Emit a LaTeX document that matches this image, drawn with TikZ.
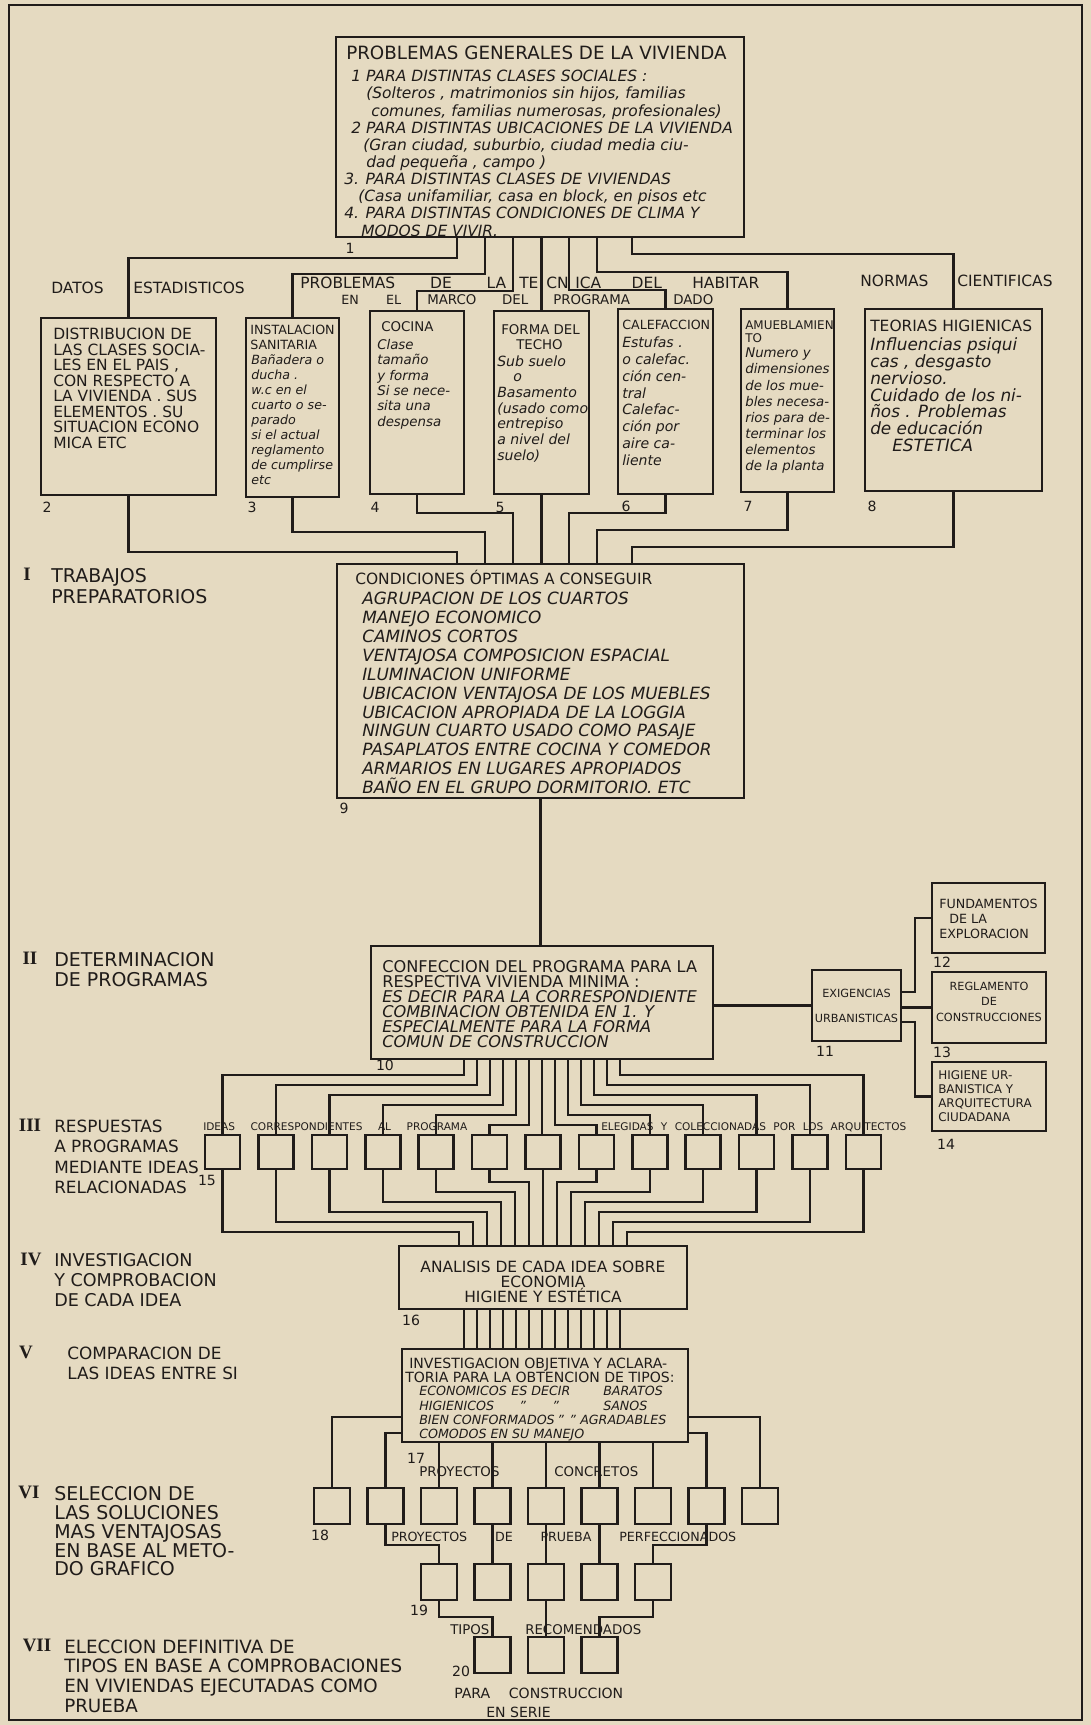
\documentclass[tikz,border=0pt]{standalone}
\usepackage{fontspec}
\setmainfont{DejaVu Sans}
\newfontfamily\romnum{Liberation Serif}
\usetikzlibrary{fit}
\definecolor{paper}{RGB}{229,218,193}
\definecolor{ink}{RGB}{32,28,26}
\newlength\px
\setlength\px{0.025cm}
\newcommand\fs[2]{\fontsize{#1}{#2}\selectfont}
\newcommand\spread[2]{\makebox[#1\px][s]{#2}}

\begin{document}
\begin{tikzpicture}[x=0.025cm, y=-0.025cm, line width=1.8pt, color=ink,
    every node/.style={inner sep=0pt},
    box/.style={draw, fit={#1}},
    sq/.style={draw, minimum width=0.9cm, minimum height=0.9cm},
    idea/.style={draw, minimum width=0.875cm, minimum height=0.85cm},
    num/.style={font=\fs{10}{12}},
    hd/.style={anchor=west, font=\fs{11}{12}},
    blk/.style={anchor=north west, align=left},
    sidetxt/.style={anchor=north west, align=left, font=\fs{13}{14.2}},
    romn/.style={font=\romnum\bfseries\fs{13.5}{14}}]
\useasboundingbox (0,0) rectangle (1091,1725);

% 1. fondo y marco
\fill[paper] (0,0) rectangle (1091,1725);
\draw (9,5) rectangle (1082,1720);

% 2. problemas generales
\node[box={(336,37) (744,237)}] (b1) {};
\node[hd, font=\fs{13}{14}] (t1) at (345,53) {PROBLEMAS GENERALES DE LA VIVIENDA};
\node[blk, font=\itshape\fs{11}{12.2}] (t1b) at (343,69) {\hspace*{7\px}1 PARA DISTINTAS CLASES SOCIALES :\\
  \hspace*{22\px}(Solteros , matrimonios sin hijos, familias\\
  \hspace*{27\px}comunes, familias numerosas, profesionales)\\
  \hspace*{7\px}2 PARA DISTINTAS UBICACIONES DE LA VIVIENDA\\
  \hspace*{19\px}(Gran ciudad, suburbio, ciudad media ciu-\\
  \hspace*{22\px}dad pequeña , campo )\\
  3. PARA DISTINTAS CLASES DE VIVIENDAS\\
  \hspace*{14\px}(Casa unifamiliar, casa en block, en pisos etc\\
  4. PARA DISTINTAS CONDICIONES DE CLIMA Y\\
  \hspace*{17\px}MODOS DE VIVIR.};
\node[num] (n1) at (350,248) {1};

% 3. cabeceras de la fila de trabajos
\node[hd] (hd1) at (50,288) {DATOS};
\node[hd] (hd2) at (132,288) {ESTADISTICOS};
\node[hd] (hp1) at (299,283) {\spread{206}{PROBLEMAS DE LA}};
\node[hd] (hp2) at (518,283) {TE};
\node[hd] (hp3) at (545,283) {CN};
\node[hd] (hp4) at (574,283) {\spread{184}{ICA DEL HABITAR}};
\node[hd, font=\fs{9}{11}] (hm1) at (340,300) {\spread{60}{EN EL}};
\node[hd, font=\fs{9.5}{11}] (hm2) at (426,300) {\spread{101}{MARCO DEL}};
\node[hd, font=\fs{9.5}{11}] (hm3) at (552,300) {PROGRAMA};
\node[hd, font=\fs{9.5}{11}] (hm4) at (672,300) {DADO};
\node[hd] (hn1) at (859,281) {NORMAS};
\node[hd] (hn2) at (956,281) {CIENTIFICAS};

% 4. cajas 2 a 8
\node[box={(41,318) (216,495)}] (b2) {};
\node[blk, font=\fs{11}{11}] (t2) at (52,327) {DISTRIBUCION DE\\LAS CLASES SOCIA-\\LES EN EL PAIS ,\\CON RESPECTO A\\LA VIVIENDA . SUS\\ELEMENTOS . SU\\SITUACION ECONO\\MICA ETC};

\node[box={(246,318) (339,497)}] (b3) {};
\node[blk, font=\fs{9}{10.7}] (h3) at (249,323.5) {INSTALACION\\SANITARIA};
\node[blk, font=\itshape\fs{9}{10.7}] (t3) at (250,353) {Bañadera o\\ducha .\\w.c en el\\cuarto o se-\\parado\\si el actual\\reglamento\\de cumplirse\\etc};

\node[box={(370,311) (464,494)}] (b4) {};
\node[hd, font=\fs{9.5}{11}] (h4) at (380,327) {COCINA};
\node[blk, font=\itshape\fs{9.5}{11}] (t4) at (376,337.7) {Clase\\tamaño\\y forma\\Si se nece-\\sita una\\despensa};

\node[box={(494,311) (589,494)}] (b5) {};
\node[blk, font=\fs{9.5}{11}] (h5) at (500,323) {FORMA DEL\\\hspace*{15\px}TECHO};
\node[blk, font=\itshape\fs{10}{11.1}] (t5) at (496,354.4) {Sub suelo\\\hspace*{16\px}o\\Basamento\\(usado como\\entrepiso\\a nivel del\\suelo)};

\node[box={(618,309) (713,494)}] (b6) {};
\node[hd, font=\fs{9}{11}] (h6) at (621,325) {CALEFACCION};
\node[blk, font=\itshape\fs{10}{11.9}] (t6) at (621,336) {Estufas .\\o calefac.\\ción cen-\\tral\\Calefac-\\ción por\\aire ca-\\liente};

\node[box={(741,309) (834,492)}] (b7) {};
\node[blk, font=\fs{8.5}{9}] (h7) at (744,319.6) {AMUEBLAMIEN\\TO};
\node[blk, font=\itshape\fs{9.5}{11.5}] (t7) at (744,346.7) {Numero y\\dimensiones\\de los mue-\\bles necesa-\\rios para de-\\terminar los\\elementos\\de la planta};

\node[box={(865,309) (1042,491)}] (b8) {};
\node[hd, font=\fs{11}{12}] (h8) at (869,326) {TEORIAS HIGIENICAS};
\node[blk, font=\itshape\fs{12}{12}] (t8) at (869,336.3) {Influencias psiqui\\cas , desgasto\\nervioso.\\Cuidado de los ni-\\ños . Problemas\\de educación\\\hspace*{22\px}ESTETICA};

\node[num] (n2) at (47,507) {2};
\node[num] (n3) at (252,507) {3};
\node[num] (n4) at (375,507) {4};
\node[num] (n5) at (500,507) {5};
\node[num] (n6) at (626,506) {6};
\node[num] (n7) at (748,506) {7};
\node[num] (n8) at (872,506) {8};

\foreach \xx/\yy/\nn in {457/258/2, 485/274/3, 513/291/4, 569/290/6, 597/272/7, 632/254/8}
  \draw (b1.south -| \xx,0) -- (\xx,\yy) -| (b\nn.north);
\draw (b1.south -| b5.north) -- (b5.north);

% 5. condiciones optimas
\node[box={(337,564) (744,798)}] (b9) {};
\node[hd, font=\fs{11}{12}] (t9) at (354,577.5) {CONDICIONES ÓPTIMAS A CONSEGUIR};
\node[blk, font=\itshape\fs{12}{13.5}] (t9b) at (361,590.3) {AGRUPACION DE LOS CUARTOS\\MANEJO ECONOMICO\\CAMINOS CORTOS\\VENTAJOSA COMPOSICION ESPACIAL\\ILUMINACION UNIFORME\\UBICACION VENTAJOSA DE LOS MUEBLES\\UBICACION APROPIADA DE LA LOGGIA\\NINGUN CUARTO USADO COMO PASAJE\\PASAPLATOS ENTRE COCINA Y COMEDOR\\ARMARIOS EN LUGARES APROPIADOS\\BAÑO EN EL GRUPO DORMITORIO. ETC};
\node[num] (n9) at (344,808) {9};

\foreach \nn/\yy/\xx in {2/552/457, 3/532/485, 4/513/513, 6/513/569, 7/530/597, 8/547/632}
  \draw (b\nn.south) |- (\xx,\yy) -- (b9.north -| \xx,0);
\draw (b5.south) -- (b9.north -| b5.south);

% 6. programa y exigencias urbanisticas
\node[box={(371,946) (713,1059)}] (b10) {};
\node[blk, font=\fs{11.5}{10.7}] (t10) at (381,959) {CONFECCION DEL PROGRAMA PARA LA\\RESPECTIVA VIVIENDA MINIMA :};
\node[blk, font=\itshape\fs{11.5}{10.7}] (t10b) at (381,989) {ES DECIR PARA LA CORRESPONDIENTE\\COMBINACION OBTENIDA EN 1. Y\\ESPECIALMENTE PARA LA FORMA\\COMUN DE CONSTRUCCION};
\node[num] (n10) at (385,1065) {10};
\draw (b9.south) -- (b10.north -| b9.south);

\node[box={(812,970) (901,1041)}] (b11) {};
\node[align=center, font=\fs{8}{17.8}] (t11) at (b11) {EXIGENCIAS\\URBANISTICAS};
\node[num] (n11) at (825,1051) {11};
\node[box={(932,883) (1045,953)}] (b12) {};
\node[blk, font=\fs{9}{10.7}] (t12) at (938,898) {FUNDAMENTOS\\\hspace*{10\px}DE LA\\EXPLORACION};
\node[num] (n12) at (942,962) {12};
\node[box={(932,972) (1046,1043)}] (b13) {};
\node[align=center, font=\fs{8}{10.7}, yshift=4pt] (t13) at (b13) {REGLAMENTO\\DE\\CONSTRUCCIONES};
\node[num] (n13) at (942,1052) {13};
\node[box={(932,1062) (1046,1131)}] (b14) {};
\node[blk, font=\fs{8.5}{10}] (t14) at (937,1069) {HIGIENE UR-\\BANISTICA Y\\ARQUITECTURA\\CIUDADANA};
\node[num] (n14) at (946,1144) {14};

\draw (b10.east |- b11.west) -- (b11.west);
\draw (b11.east |- 0,992) -- (915,992) |- (b12.west);
\draw (b11.east |- b13.west) -- (b13.west);
\draw (b11.east |- 0,1022) -- (915,1022) |- (b14.west);

% 7. ideas relacionadas
\node[hd, font=\fs{7.5}{9}] (hi1) at (202,1127) {\spread{264}{IDEAS CORRESPONDIENTES AL PROGRAMA}};
\node[hd, font=\fs{7.5}{9}] (hi2) at (600,1127) {\spread{305}{ELEGIDAS Y COLECCIONADAS POR LOS ARQUITECTOS}};
\foreach \kk in {0,...,12}
  \node[idea] (r\kk) at ({543+(\kk-6)*53.4},1152) {};
\node[num] (n15) at (207,1180) {15};

\foreach \kk in {0,...,12} {
  \pgfmathsetmacro\dd{abs(\kk-6)}
  \pgfmathsetmacro\xs{542+(\kk-6)*13}
  \pgfmathsetmacro\yh{1135-10*\dd}
  \draw (b10.south -| \xs,0) -- (\xs,\yh) -| (r\kk.north);
}

% 8. analisis de cada idea
\node[box={(399,1246) (687,1309)}] (b16) {};
\node[align=center, font=\fs{11}{10.7}, yshift=-3.2pt] (t16) at (b16) {ANALISIS DE CADA IDEA SOBRE\\ECONOMIA\\HIGIENE Y ESTÉTICA};
\node[num] (n16) at (411,1320) {16};

\foreach \kk in {0,...,12} {
  \pgfmathsetmacro\dd{abs(\kk-6)}
  \pgfmathsetmacro\xe{543+(\kk-6)*14}
  \pgfmathsetmacro\yl{1172+10*\dd}
  \draw (r\kk.south) |- (\xe,\yl) -- (b16.north -| \xe,0);
}

% 9. investigacion objetiva
\node[box={(402,1349) (688,1442)}] (b17) {};
\node[blk, font=\fs{10}{10.1}] (t17) at (408,1357) {INVESTIGACION OBJETIVA Y ACLARA-\\\hspace*{-4\px}TORIA PARA LA OBTENCION DE TIPOS:};
\node[blk, font=\itshape\fs{9}{10.1}] (t17b) at (418,1385.3) {\makebox[92\px][l]{ECONOMICOS}\makebox[92\px][l]{ES DECIR}BARATOS\\
  \makebox[100\px][l]{HIGIENICOS}\makebox[33\px][l]{"}\makebox[51\px][l]{"}SANOS\\
  \makebox[138\px][l]{BIEN CONFORMADOS}\makebox[12\px][l]{"}\makebox[11\px][l]{"}AGRADABLES\\
  COMODOS EN SU MANEJO};
\node[num] (n17) at (416,1458) {17};

\foreach \jj in {-6,...,6} {
  \pgfmathsetmacro\xb{542+\jj*13}
  \draw (b16.south -| \xb,0) -- (b17.north -| \xb,0);
}

% 10. proyectos, tipos y serie
\node[hd, font=\fs{9.5}{11}] (hc1) at (418,1472) {PROYECTOS};
\node[hd, font=\fs{9.5}{11}] (hc2) at (553,1472) {CONCRETOS};
\foreach \kk in {0,...,8}
  \node[sq] (s\kk) at ({546+(\kk-4)*53.5},1506) {};
\node[num] (n18) at (320,1535) {18};
\node[hd, font=\fs{9}{11}] (hpp) at (390,1537) {\spread{345}{PROYECTOS DE PRUEBA PERFECCIONADOS}};

\draw (b17.west |- 0,1417) -| (s0.north);
\draw (b17.west |- 0,1433) -| (s1.north);
\foreach \kk in {2,...,6}
  \draw (b17.south -| s\kk.north) -- (s\kk.north);
\draw (b17.east |- 0,1433) -| (s7.north);
\draw (b17.east |- 0,1417) -| (s8.north);

\foreach \kk in {0,...,4}
  \node[sq] (p\kk) at ({439+\kk*53.5},1582) {};
\node[num] (n19) at (419,1610) {19};
\draw (s1.south) -- (s1.south |- 0,1545) -| (p0.north);
\draw (s3.south) -- (p1.north);
\draw (s4.south) -- (p2.north);
\draw (s5.south) -- (p3.north);
\draw (s7.south) -- (s7.south |- 0,1545) -| (p4.north);

\node[hd, font=\fs{9.5}{11}] (htr) at (449,1630) {\spread{191}{TIPOS RECOMENDADOS}};
\foreach \kk in {0,1,2}
  \node[sq] (q\kk) at ({492.5+\kk*53.5},1655) {};
\node[num] (n20) at (461,1671) {20};
\draw (p0.south) -- (p0.south |- 0,1617) -| (q0.north);
\draw (p2.south) -- (q1.north);
\draw (p4.south) -- (p4.south |- 0,1617) -| (q2.north);
\node[hd, font=\fs{10}{12}] (hse1) at (453,1693) {\spread{169}{PARA CONSTRUCCION}};
\node[hd, font=\fs{10}{12}] (hse2) at (485,1712) {EN SERIE};

% 11. etapas a la izquierda
\node[romn] (rI) at (27,574) {I};
\node[sidetxt, font=\fs{13.5}{15}] (sI) at (50,567.1) {TRABAJOS\\PREPARATORIOS};
\node[romn] (rII) at (30,958) {II};
\node[sidetxt, font=\fs{13.5}{14.2}] (sII) at (53,951.1) {DETERMINACION\\DE PROGRAMAS};
\node[romn] (rIII) at (30,1125) {III};
\node[sidetxt, font=\fs{12}{14.4}] (sIII) at (53,1118.8) {RESPUESTAS\\A PROGRAMAS\\MEDIANTE IDEAS\\RELACIONADAS};
\node[romn] (rIV) at (31,1259) {IV};
\node[sidetxt, font=\fs{12.5}{14.2}] (sIV) at (53,1252.6) {INVESTIGACION\\Y COMPROBACION\\DE CADA IDEA};
\node[romn] (rV) at (26,1352) {V};
\node[sidetxt, font=\fs{12}{14.2}] (sV) at (66,1345.8) {COMPARACION DE\\LAS IDEAS ENTRE SI};
\node[romn] (rVI) at (29,1492) {VI};
\node[sidetxt, font=\fs{13.5}{13.4}] (sVI) at (53,1485.1) {SELECCION DE\\LAS SOLUCIONES\\MAS VENTAJOSAS\\EN BASE AL METO-\\DO GRAFICO};
\node[romn] (rVII) at (37,1645) {VII};
\node[sidetxt, font=\fs{13}{14.1}] (sVII) at (63,1638.3) {ELECCION DEFINITIVA DE\\TIPOS EN BASE A COMPROBACIONES\\EN VIVIENDAS EJECUTADAS COMO\\PRUEBA};
\end{tikzpicture}
\end{document}
